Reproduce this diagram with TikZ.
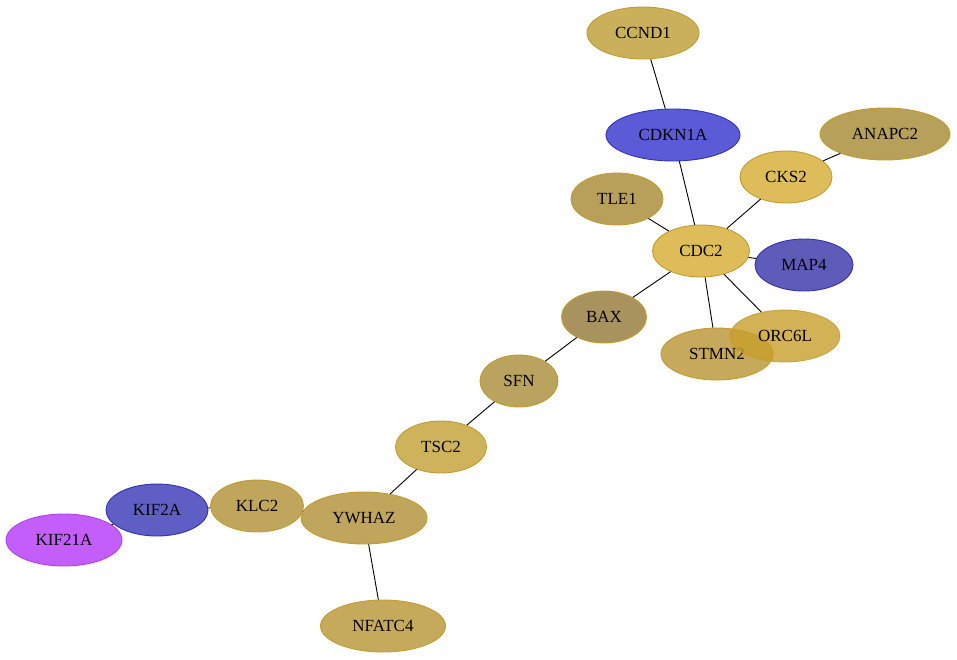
\documentclass[tikz,border=0pt]{standalone}
\usepackage{fontspec}
\setmainfont{Liberation Serif}
\usetikzlibrary{shapes.geometric}
\definecolor{cCCND}{HTML}{CBB05C}
\definecolor{cCDKN}{HTML}{5B5BD8}
\definecolor{cANAPC}{HTML}{B7A05A}
\definecolor{cCKS}{HTML}{DFBC5A}
\definecolor{cTLE}{HTML}{B8A05A}
\definecolor{cCDC}{HTML}{DFBC5A}
\definecolor{cMAP}{HTML}{5E5CB8}
\definecolor{cBAX}{HTML}{A8935E}
\definecolor{cORC}{HTML}{C89F2B}
\definecolor{cSTMN}{HTML}{C7A95B}
\definecolor{cSFN}{HTML}{BAA25F}
\definecolor{cTSC}{HTML}{CFB35C}
\definecolor{cKIFA}{HTML}{5E5EC4}
\definecolor{cKLC}{HTML}{C0A65C}
\definecolor{cYWH}{HTML}{C0A65C}
\definecolor{cKIFB}{HTML}{C45EFA}
\definecolor{cNFAT}{HTML}{C6AA5C}
\definecolor{bGold}{HTML}{C49B2E}
\definecolor{bBlue}{HTML}{3232B4}
\definecolor{bPurp}{HTML}{B040F0}
\tikzset{
  gene/.style={ellipse, inner sep=0pt, minimum height=52pt, font=\fontsize{17}{20}\selectfont, line width=0.9pt},
  gold/.style={gene, draw=bGold},
  blue/.style={gene, draw=bBlue},
  edge/.style={draw=black, line width=0.9pt}
}
\begin{document}
\begin{tikzpicture}[x=1pt,y=-1pt]
\useasboundingbox (0,0) rectangle (957,660);
\node[gold, fill=cCCND, minimum width=112pt] (CCND1) at (643,33) {CCND1};
\node[blue, fill=cCDKN, minimum width=134pt] (CDKN1A) at (673,135) {CDKN1A};
\node[gold, fill=cANAPC, minimum width=130pt] (ANAPC2) at (885,134) {ANAPC2};
\node[gold, fill=cCKS, minimum width=92pt] (CKS2) at (786,177) {CKS2};
\node[gold, fill=cTLE, minimum width=92pt] (TLE1) at (617,199) {TLE1};
\node[gold, fill=cCDC, minimum width=97pt] (CDC2) at (701,251) {CDC2};
\node[blue, fill=cMAP, minimum width=98pt] (MAP4) at (804,265) {MAP4};
\node[gold, fill=cBAX, minimum width=85pt] (BAX) at (604,317) {BAX};
\node[gold, fill=cSTMN, minimum width=112pt] (STMN2) at (717,354) {STMN2};
\node[gold, fill=cORC, fill opacity=0.8, text opacity=1, draw opacity=0.8, minimum width=110pt] (ORC6L) at (785,336) {ORC6L};
\node[gold, fill=cSFN, minimum width=78pt] (SFN) at (519,381) {SFN};
\node[gold, fill=cTSC, minimum width=91pt] (TSC2) at (441,447) {TSC2};
\node[gold, fill=cKLC, minimum width=93pt] (KLC2) at (257,506) {KLC2};
\node[blue, fill=cKIFA, minimum width=102pt] (KIF2A) at (157,510) {KIF2A};
\node[gold, fill=cYWH, minimum width=126pt] (YWHAZ) at (364,518) {YWHAZ};
\node[gene, draw=bPurp, fill=cKIFB, minimum width=116pt] (KIF21A) at (64,540) {KIF21A};
\node[gold, fill=cNFAT, minimum width=125pt] (NFATC4) at (383,626) {NFATC4};
\draw[edge] (CCND1) -- (CDKN1A);
\draw[edge] (CDKN1A) -- (CDC2);
\draw[edge] (ANAPC2) -- (CKS2);
\draw[edge] (CKS2) -- (CDC2);
\draw[edge] (TLE1) -- (CDC2);
\draw[edge] (CDC2) -- (MAP4);
\draw[edge] (CDC2) -- (BAX);
\draw[edge] (CDC2) -- (STMN2);
\draw[edge] (CDC2) -- (ORC6L);
\draw[edge] (BAX) -- (SFN);
\draw[edge] (SFN) -- (TSC2);
\draw[edge] (TSC2) -- (YWHAZ);
\draw[edge] (YWHAZ) -- (KLC2);
\draw[edge] (KLC2) -- (KIF2A);
\draw[edge] (KIF2A) -- (KIF21A);
\draw[edge] (YWHAZ) -- (NFATC4);
\end{tikzpicture}
\end{document}
